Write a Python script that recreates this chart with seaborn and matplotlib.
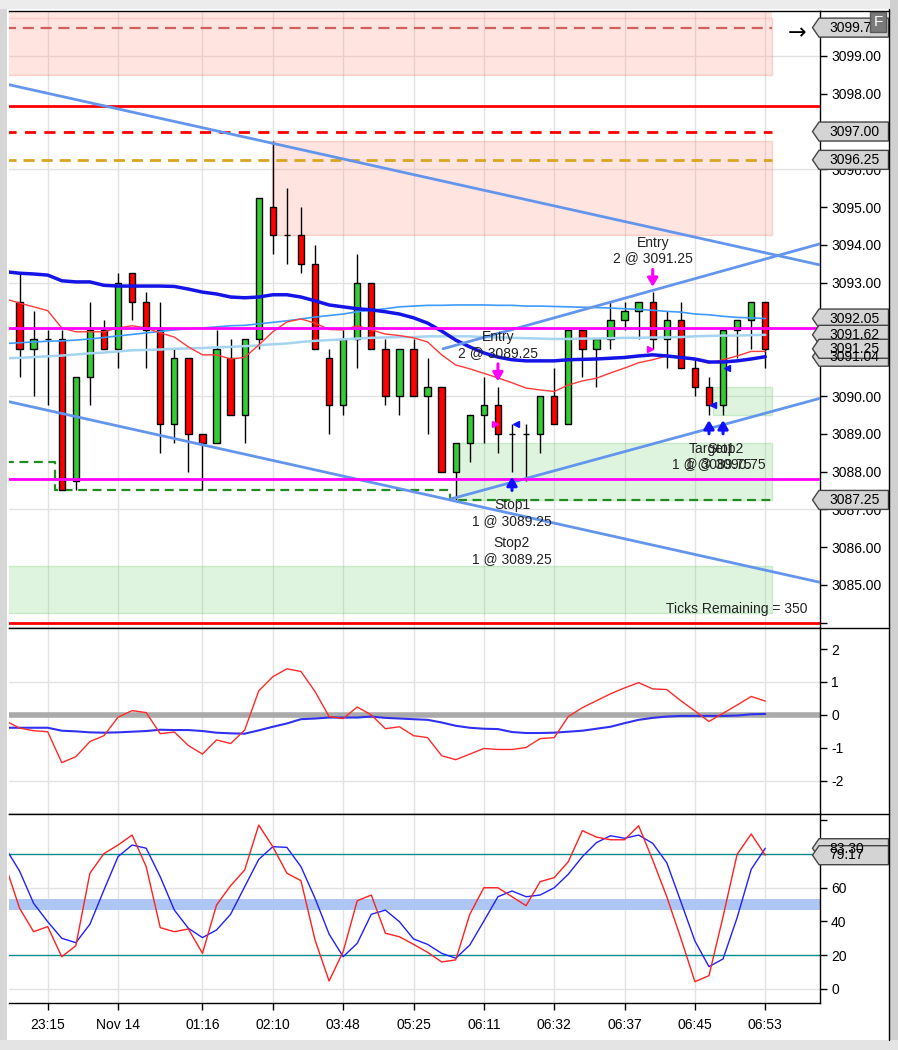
"""
Futures chart recreation: candlesticks with overlays, MACD and stochastics panels.
Output: out.png (898x1050)
"""

import numpy as np
import pandas as pd
import matplotlib
matplotlib.use("Agg")
import matplotlib.pyplot as plt
import matplotlib.transforms as mtransforms
from matplotlib.patches import Rectangle, Polygon
from matplotlib.lines import Line2D
import seaborn as sns

# ── Data ──────────────────────────────────────────────────────────────────────

opens = [3092.50, 3091.25, 3091.50, 3091.50, 3087.75, 3090.50, 3091.75, 3091.25, 3093.25, 3092.50,
         3091.75, 3089.25, 3091.00, 3089.00, 3088.75, 3091.00, 3089.50, 3091.50, 3095.00, 3094.25,
         3094.25, 3093.50, 3091.00, 3089.75, 3091.50, 3093.00, 3091.25, 3090.00, 3091.25, 3090.00,
         3090.25, 3088.00, 3088.75, 3089.50, 3089.75, 3089.00, 3089.00, 3089.00, 3090.00, 3089.25,
         3091.75, 3091.25, 3091.50, 3092.00, 3092.25, 3092.50, 3091.50, 3092.00, 3090.75, 3090.25,
         3089.75, 3091.75, 3092.00, 3092.50]
highs = [3093.25, 3092.25, 3091.75, 3091.75, 3090.50, 3092.50, 3092.00, 3093.25, 3093.25, 3092.75,
         3092.50, 3091.25, 3091.00, 3089.00, 3091.75, 3091.50, 3091.50, 3095.25, 3096.75, 3095.50,
         3095.00, 3094.00, 3091.25, 3091.75, 3093.75, 3093.00, 3091.50, 3091.25, 3091.50, 3091.00,
         3090.25, 3088.75, 3089.50, 3090.50, 3090.25, 3089.25, 3089.25, 3090.00, 3090.75, 3091.75,
         3091.75, 3091.50, 3092.50, 3092.50, 3092.50, 3092.75, 3092.25, 3092.50, 3091.00, 3090.50,
         3091.75, 3092.00, 3092.50, 3092.50]
lows = [3090.50, 3090.00, 3089.75, 3087.50, 3087.50, 3089.75, 3091.25, 3090.75, 3092.00, 3090.75,
        3088.50, 3088.75, 3088.00, 3087.50, 3088.75, 3089.50, 3088.75, 3091.25, 3093.75, 3093.50,
        3093.25, 3091.25, 3089.00, 3089.50, 3090.75, 3091.25, 3089.75, 3089.50, 3090.00, 3089.00,
        3088.00, 3087.25, 3088.25, 3088.75, 3088.50, 3088.00, 3087.75, 3088.50, 3089.25, 3089.25,
        3090.50, 3090.25, 3091.25, 3091.75, 3091.50, 3091.25, 3090.75, 3090.75, 3090.00, 3089.50,
        3089.50, 3091.00, 3091.25, 3090.75]
closes = [3091.25, 3091.50, 3091.50, 3087.50, 3090.50, 3091.75, 3091.25, 3093.00, 3092.50, 3091.75,
          3089.25, 3091.00, 3089.00, 3088.75, 3091.25, 3089.50, 3091.50, 3095.25, 3094.25, 3094.25,
          3093.50, 3091.25, 3089.75, 3091.50, 3093.00, 3091.25, 3090.00, 3091.25, 3090.00, 3090.25,
          3088.00, 3088.75, 3089.50, 3089.75, 3089.00, 3089.00, 3089.00, 3090.00, 3089.25, 3091.75,
          3091.25, 3091.50, 3092.00, 3092.25, 3092.50, 3091.50, 3092.00, 3090.75, 3090.25, 3089.75,
          3091.75, 3092.00, 3092.50, 3091.25]

# overlay series start one bar before the first visible candle (index -1)
ma_slow = [3093.29, 3093.25, 3093.23, 3093.20, 3093.05, 3093.02, 3093.02, 3092.93, 3092.91, 3092.91,
           3092.91, 3092.91, 3092.90, 3092.83, 3092.75, 3092.70, 3092.62, 3092.60, 3092.62, 3092.68,
           3092.68, 3092.62, 3092.52, 3092.41, 3092.36, 3092.31, 3092.28, 3092.23, 3092.17, 3092.07,
           3091.93, 3091.72, 3091.48, 3091.30, 3091.14, 3091.03, 3090.96, 3090.93, 3090.93, 3090.93,
           3090.96, 3090.97, 3090.98, 3091.00, 3091.02, 3091.06, 3091.09, 3091.06, 3091.02, 3090.98,
           3090.90, 3090.90, 3090.93, 3090.98, 3091.04]
ma_fast = [3092.57, 3092.46, 3092.36, 3092.26, 3091.80, 3091.70, 3091.70, 3091.70, 3091.80, 3091.86,
           3091.80, 3091.67, 3091.56, 3091.30, 3091.09, 3091.09, 3090.98, 3091.02, 3091.35, 3091.70,
           3091.96, 3092.04, 3091.93, 3091.76, 3091.75, 3091.86, 3091.75, 3091.64, 3091.60, 3091.54,
           3091.43, 3091.09, 3090.82, 3090.72, 3090.60, 3090.48, 3090.35, 3090.21, 3090.16, 3090.12,
           3090.29, 3090.40, 3090.47, 3090.61, 3090.74, 3090.88, 3090.96, 3091.06, 3091.01, 3090.96,
           3090.87, 3090.96, 3091.06, 3091.18, 3091.18]
band_upper = [3091.39, 3091.41, 3091.43, 3091.45, 3091.46, 3091.48, 3091.51, 3091.55, 3091.59, 3091.63,
              3091.67, 3091.71, 3091.75, 3091.78, 3091.80, 3091.83, 3091.86, 3091.87, 3091.91, 3091.95,
              3091.99, 3092.04, 3092.09, 3092.13, 3092.17, 3092.23, 3092.27, 3092.31, 3092.36, 3092.38,
              3092.40, 3092.40, 3092.41, 3092.41, 3092.41, 3092.40, 3092.40, 3092.38, 3092.38, 3092.37,
              3092.36, 3092.35, 3092.34, 3092.33, 3092.31, 3092.29, 3092.27, 3092.24, 3092.22, 3092.17,
              3092.15, 3092.11, 3092.08, 3092.07, 3092.05]
band_mid = [3091.00, 3091.01, 3091.03, 3091.05, 3091.07, 3091.10, 3091.13, 3091.15, 3091.18, 3091.21,
            3091.22, 3091.23, 3091.25, 3091.26, 3091.27, 3091.29, 3091.30, 3091.32, 3091.34, 3091.37,
            3091.39, 3091.43, 3091.46, 3091.48, 3091.50, 3091.52, 3091.54, 3091.55, 3091.56, 3091.56,
            3091.58, 3091.58, 3091.58, 3091.58, 3091.56, 3091.55, 3091.54, 3091.53, 3091.52, 3091.51,
            3091.51, 3091.52, 3091.52, 3091.53, 3091.54, 3091.54, 3091.55, 3091.55, 3091.56, 3091.58,
            3091.59, 3091.60, 3091.60, 3091.61, 3091.62]

macd = [-0.18, -0.40, -0.48, -0.51, -1.45, -1.27, -0.81, -0.63, -0.07, 0.13,
        0.07, -0.57, -0.52, -0.93, -1.19, -0.76, -0.87, -0.46, 0.73, 1.16,
        1.40, 1.32, 0.71, -0.05, -0.11, 0.24, 0.00, -0.42, -0.36, -0.63,
        -0.69, -1.24, -1.36, -1.19, -1.02, -1.05, -1.05, -0.99, -0.72, -0.69,
        -0.05, 0.22, 0.43, 0.64, 0.82, 0.98, 0.79, 0.77, 0.43, 0.12,
        -0.20, 0.05, 0.30, 0.56, 0.42]
macd_signal = [-0.39, -0.39, -0.39, -0.39, -0.48, -0.50, -0.53, -0.54, -0.53, -0.51,
               -0.49, -0.45, -0.46, -0.46, -0.49, -0.54, -0.56, -0.57, -0.47, -0.36,
               -0.26, -0.13, -0.11, -0.08, -0.08, -0.08, -0.05, -0.09, -0.11, -0.13,
               -0.15, -0.23, -0.33, -0.39, -0.42, -0.43, -0.52, -0.55, -0.55, -0.54,
               -0.51, -0.48, -0.42, -0.36, -0.25, -0.15, -0.09, -0.05, -0.03, -0.03,
               -0.03, -0.03, -0.02, 0.02, 0.03]

stoch_k = [73.0, 47.8, 33.9, 36.9, 19.1, 25.6, 68.5, 80.1, 85.2, 91.1,
           72.4, 36.3, 33.9, 35.5, 21.1, 49.7, 61.1, 70.4, 97.0, 84.2,
           68.5, 64.1, 29.0, 4.7, 22.1, 52.2, 55.6, 33.0, 30.9, 26.4,
           21.7, 16.0, 17.2, 44.2, 59.9, 59.9, 54.6, 49.3, 63.5, 65.9,
           75.3, 93.7, 89.9, 88.3, 88.3, 96.6, 76.3, 54.6, 30.0, 4.3,
           7.9, 42.8, 79.7, 91.7, 79.17]
stoch_d = [83.4, 69.8, 50.7, 39.8, 30.0, 27.4, 38.3, 58.6, 78.3, 85.2,
           83.3, 66.4, 46.7, 35.9, 30.4, 34.9, 44.2, 60.5, 76.7, 84.2,
           83.8, 72.4, 53.7, 32.5, 19.1, 27.0, 44.2, 46.7, 39.8, 29.6,
           26.4, 21.1, 18.2, 26.0, 40.2, 54.6, 58.0, 54.6, 55.6, 59.9,
           67.9, 78.3, 86.6, 90.7, 89.2, 91.1, 86.2, 74.7, 51.7, 28.4,
           13.2, 17.8, 42.2, 70.8, 83.3]

x_ticks = [2, 7, 13, 18, 23, 28, 33, 38, 43, 48, 53]
x_labels = ["23:15", "Nov 14", "01:16", "02:10", "03:48", "05:25",
            "06:11", "06:32", "06:37", "06:45", "06:53"]

# zones: (bar_from, bar_to, price_low, price_high)
supply_zones = [(-1.0, 53.5, 3098.50, 3100.00), (17.95, 53.5, 3094.25, 3096.75)]
demand_zones = [(-1.0, 53.5, 3084.25, 3085.50), (31.0, 53.5, 3087.25, 3088.75),
                (49.25, 53.5, 3089.50, 3090.25)]

dashed_levels = [3099.75, 3097.00, 3096.25]
red_levels = [3097.68, 3084.00]
magenta_levels = [3091.79, 3087.81]

stop_steps_x = [-1.0, 2.5, 30.6, 53.5]
stop_steps_y = [3088.25, 3087.50, 3087.25, 3087.25]

# channel lines: (bar0, price0, bar1, price1)
channels = [(-1.0, 3098.26, 57.0, 3093.46), (-1.0, 3089.87, 57.0, 3085.06),
            (30.1, 3091.25, 57.0, 3094.04), (30.6, 3087.27, 57.0, 3089.95)]

# executions
entry_bars = [45, 34]
entry_prices = [3091.25, 3089.25]
exit_bars = [35, 49, 50]
exit_prices = [3089.25, 3089.75, 3090.75]
exit_names = ["Stop1", "Target1", "Stop2"]

price_flags = [3099.75, 3097.00, 3096.25, 3092.05, 3091.62, 3091.04, 3091.25, 3087.25]

W, H = 898, 1050


def rect(l, t, r, b):
    return [l / W, 1 - b / H, (r - l) / W, (b - t) / H]


def flag(ax, fig, y, label):
    """Gray price marker on the right axis."""
    trans = fig.dpi_scale_trans + mtransforms.ScaledTranslation(1.0, y, ax.get_yaxis_transform())
    poly = Polygon([(-0.075, 0), (-0.01, 0.095), (0.685, 0.095), (0.685, -0.095), (-0.01, -0.095)],
                   closed=True, fc="#d4d4d4", ec="#444444", lw=1, transform=trans,
                   clip_on=False, zorder=20)
    ax.add_patch(poly)
    ax.text(0.09, -0.003, label, transform=trans, ha="left", va="center",
            fontsize=10, color="black", clip_on=False, zorder=21)


def style_axis(ax):
    ax.spines["left"].set_visible(False)
    for side in ["top", "right", "bottom"]:
        ax.spines[side].set_color("black")
        ax.spines[side].set_linewidth(1)
    ax.yaxis.tick_right()
    ax.tick_params(axis="y", direction="out", length=5, width=1, pad=3,
                   labelsize=10, colors="black", left=False, right=True)
    ax.set_xlim(-0.75, 56.89)
    for t in x_ticks:
        ax.axvline(t, color="#e2e2e2", lw=1, zorder=0.5)
    ax.set_xlabel("")
    ax.set_ylabel("")


def main():
    sns.set_theme(style="white")
    plt.rcParams["font.family"] = ["Liberation Sans", "DejaVu Sans"]
    plt.rcParams["axes.unicode_minus"] = False

    fig = plt.figure(figsize=(W / 100, H / 100), dpi=100, facecolor="white")

    ax1 = fig.add_axes(rect(9, 11, 820, 628))
    ax2 = fig.add_axes(rect(9, 628, 820, 814))
    ax3 = fig.add_axes(rect(9, 814, 820, 1003))

    bars = pd.DataFrame({"idx": np.arange(len(opens)), "open": opens, "high": highs,
                         "low": lows, "close": closes})
    ov = pd.DataFrame({"idx": np.arange(-1, len(opens)), "slow": ma_slow, "fast": ma_fast,
                       "upper": band_upper, "mid": band_mid, "macd": macd,
                       "signal": macd_signal, "k": stoch_k, "d": stoch_d})

    # ── Price panel ──
    for lvl in [3099, 3096, 3093, 3090, 3087]:
        ax1.axhline(lvl, color="#e2e2e2", lw=1, zorder=0.5)
    for x0, x1, lo, hi in supply_zones:
        ax1.add_patch(Rectangle((x0, lo), x1 - x0, hi - lo, fc="#ff9a8a", ec="#ff6a5a",
                                lw=1, alpha=0.26, zorder=1))
    # the upper supply zone continues past the top of the window
    ax1.add_patch(Rectangle((supply_zones[0][0], supply_zones[0][3]),
                            supply_zones[0][1] - supply_zones[0][0], 0.4,
                            fc="#ff9a8a", lw=0, alpha=0.26, zorder=1))
    for x0, x1, lo, hi in demand_zones:
        ax1.add_patch(Rectangle((x0, lo), x1 - x0, hi - lo, fc="#6fd06f", ec="#3cb83c",
                                lw=1, alpha=0.22, zorder=1))

    ax1.hlines(dashed_levels[0], -1, 53.5, colors="#d06060", lw=1.6,
               linestyles=(0, (5, 3)), zorder=3)
    ax1.hlines(dashed_levels[1], -1, 53.5, colors="#ff0000", lw=2,
               linestyles=(0, (4, 3)), zorder=3)
    ax1.hlines(dashed_levels[2], -1, 53.5, colors="#daa520", lw=2,
               linestyles=(0, (4, 2.5)), zorder=3)
    for lvl in red_levels:
        ax1.axhline(lvl, color="#ff0000", lw=2, zorder=3)

    ax1.plot(stop_steps_x, stop_steps_y, drawstyle="steps-post", color="#228b22",
             lw=1.6, ls=(0, (4, 2.5)), zorder=3)

    # candles
    up = bars["close"] >= bars["open"]
    colors = np.where(up, "#33cc33", "#ff0000")
    ax1.vlines(bars["idx"], bars["low"], bars["high"], color="black", lw=1, zorder=4)
    ax1.bar(bars["idx"], (bars["close"] - bars["open"]).abs(), width=0.45,
            bottom=np.minimum(bars["open"], bars["close"]), color=colors,
            edgecolor="black", linewidth=1, zorder=5)

    # overlays
    sns.lineplot(data=ov, x="idx", y="mid", ax=ax1, color="#a4d4f0", lw=1.8, zorder=6, sort=False)
    sns.lineplot(data=ov, x="idx", y="upper", ax=ax1, color="#3d9bff", lw=1.2, zorder=6, sort=False)
    sns.lineplot(data=ov, x="idx", y="fast", ax=ax1, color="#ff3a3a", lw=1.0, zorder=6, sort=False)
    sns.lineplot(data=ov, x="idx", y="slow", ax=ax1, color="#1414e6", lw=2.5, zorder=6, sort=False)

    for b0, p0, b1, p1 in channels:
        ax1.plot([b0, b1], [p0, p1], color="#6495ed", lw=2, zorder=7)
    for lvl in magenta_levels:
        ax1.axhline(lvl, color="#ff00ff", lw=2, zorder=7)

    # executions
    arrow = dict(arrowstyle="-|>,head_width=0.3,head_length=0.5", lw=2.2,
                 shrinkA=0, shrinkB=0, mutation_scale=10)
    for b, p in zip(entry_bars, entry_prices):
        top = highs[b] + 0.6
        ax1.annotate("", xy=(b, top - 0.46), xytext=(b, top),
                     arrowprops=dict(color="#ff00ff", **arrow), zorder=9)
        ax1.plot(b - 0.2, p, marker=">", ms=5, color="#ff00ff", mec="#ff00ff", zorder=9)
        ax1.text(b, top + 0.5, f"Entry\n2 @ {p:.2f}", ha="center", va="center",
                 fontsize=10, color="#222222", linespacing=1.15, zorder=9)
    for b, p in zip(exit_bars, exit_prices):
        bottom = lows[b] - 0.5
        ax1.annotate("", xy=(b, bottom + 0.36), xytext=(b, bottom),
                     arrowprops=dict(color="#1010ff", **arrow), zorder=9)
        ax1.plot(b + 0.28, p, marker="<", ms=5, color="#1010ff", mec="#1010ff", zorder=9)

    ax1.text(35, 3086.91, "Stop1\n1 @ 3089.25", ha="center", va="center",
             fontsize=10, color="#222222", linespacing=1.15, zorder=9)
    ax1.text(35, 3085.90, "Stop2\n1 @ 3089.25", ha="center", va="center",
             fontsize=10, color="#222222", linespacing=1.15, zorder=9)
    ax1.text(49.2, 3088.40, f"{exit_names[1]}\n1 @ {exit_prices[1]:.2f}", ha="center",
             va="center", fontsize=10, color="#222222", linespacing=1.15, zorder=9)
    ax1.text(50.2, 3088.40, f"{exit_names[2]}\n1 @ {exit_prices[2]:.2f}", ha="center",
             va="center", fontsize=10, color="#222222", linespacing=1.15, zorder=9)

    ax1.text(0.984, 0.031, "Ticks Remaining = 350", transform=ax1.transAxes,
             ha="right", va="center", fontsize=10, color="#222222", zorder=9)

    style_axis(ax1)
    ax1.set_ylim(3083.86, 3100.19)
    price_ticks = list(range(3084, 3100))
    ax1.set_yticks(price_ticks, [""] + [f"{t:.2f}" for t in price_ticks[1:]])
    ax1.set_xticks([])

    # ── MACD panel ──
    for lvl in [1, -2]:
        ax2.axhline(lvl, color="#e2e2e2", lw=1, zorder=0.5)
    ax2.axhline(0, color="#aaaaaa", lw=4, zorder=1)
    sns.lineplot(data=ov, x="idx", y="signal", ax=ax2, color="#3030f0", lw=1.5, zorder=3, sort=False)
    sns.lineplot(data=ov, x="idx", y="macd", ax=ax2, color="#ff2a2a", lw=1.0, zorder=4, sort=False)
    style_axis(ax2)
    ax2.set_ylim(-3.01, 2.64)
    ax2.set_yticks([-2, -1, 0, 1, 2])
    ax2.set_xticks([])

    # ── Stochastics panel ──
    for lvl in [0, 60]:
        ax3.axhline(lvl, color="#e2e2e2", lw=1, zorder=0.5)
    ax3.axhspan(47, 53, color="#aec6f4", lw=0, zorder=1)
    for lvl in [20, 80]:
        ax3.axhline(lvl, color="#008b8b", lw=1, zorder=2)
    sns.lineplot(data=ov, x="idx", y="d", ax=ax3, color="#2020ff", lw=1.0, zorder=3, sort=False)
    sns.lineplot(data=ov, x="idx", y="k", ax=ax3, color="#ff2020", lw=1.0, zorder=4, sort=False)
    style_axis(ax3)
    ax3.set_ylim(-8.3, 103.55)
    ax3.set_yticks([0, 20, 40, 60, 80, 100], ["0", "20", "40", "60", "80", ""])
    ax3.set_xticks(x_ticks, x_labels)
    ax3.tick_params(axis="x", direction="out", length=5, width=1, pad=6,
                    labelsize=10, colors="black", bottom=True)

    # ── Right-axis markers ──
    for p in price_flags:
        flag(ax1, fig, p, f"{p:.2f}")
    flag(ax3, fig, stoch_d[-1], f"{stoch_d[-1]:.2f}")
    flag(ax3, fig, stoch_k[-1], f"{stoch_k[-1]:.2f}")

    # ── Window chrome ──
    gray = dict(transform=fig.transFigure, zorder=-1, lw=0)
    fig.patches.extend([
        Rectangle((0, 0), 7 / W, 1, fc="#d6d6d6", **gray),
        Rectangle((0, 1 - 9 / H), 1, 9 / H, fc="#ececec", **gray),
        Rectangle((890 / W, 0), 8 / W, 1, fc="#d0d0d0", **gray),
        Rectangle((0, 0), 1, 10 / H, fc="#e4e4e4", **gray),
    ])
    for xs, ys in [([820, 889], [11, 11]), ([820, 889], [628, 628]),
                   ([820, 889], [814, 814]), ([889, 889], [9, 1040])]:
        fig.add_artist(Line2D([x / W for x in xs], [1 - y / H for y in ys],
                              transform=fig.transFigure, color="black", lw=1))

    fig.text(797 / W, 1 - 33 / H, "\u2192", ha="center", va="center", fontsize=16,
             family="DejaVu Sans", color="black")
    fig.text(878 / W, 1 - 22 / H, "F", ha="center", va="center", fontsize=11,
             color="white", zorder=30,
             bbox=dict(boxstyle="square,pad=0.2", fc="#7a7a7a", ec="#5a5a5a", lw=1))

    fig.savefig("out.png", dpi=100, facecolor="white")
    plt.close(fig)


if __name__ == "__main__":
    main()
